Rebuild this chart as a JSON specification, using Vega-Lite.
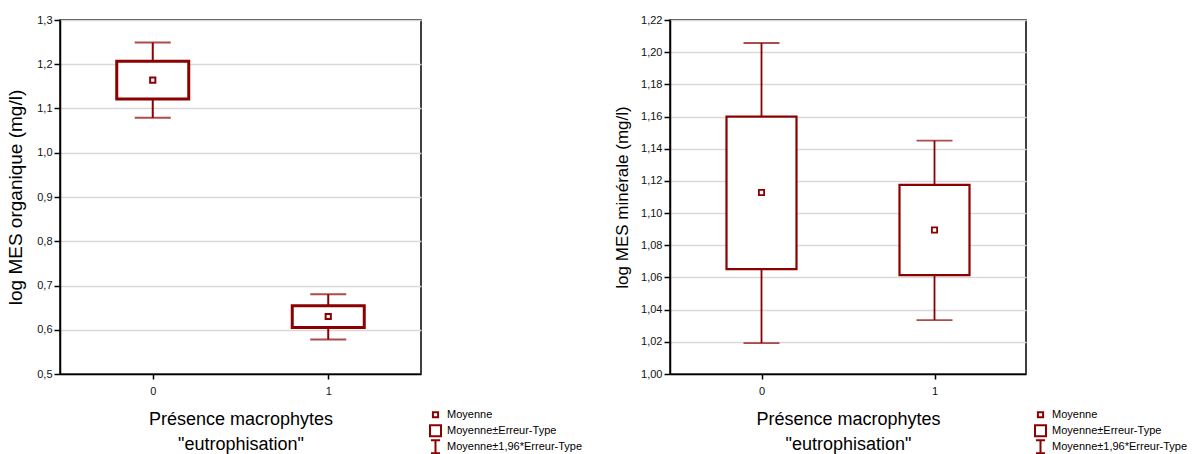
{
  "$schema": "https://vega.github.io/schema/vega-lite/v6.json",
  "background": "white",
  "padding": {"left": 5, "top": 13, "right": 0, "bottom": 0},
  "datasets": {
    "org": [
      {"cat": 0, "mean": 1.164, "se_lo": 1.1215, "se_hi": 1.207, "ci_lo": 1.079, "ci_hi": 1.249, "leg": "Moyenne"},
      {"cat": 1, "mean": 0.630, "se_lo": 0.605, "se_hi": 0.654, "ci_lo": 0.578, "ci_hi": 0.680, "leg": "Moyenne"}
    ],
    "min": [
      {"cat": 0, "mean": 1.1128, "se_lo": 1.0652, "se_hi": 1.1600, "ci_lo": 1.0192, "ci_hi": 1.2057, "leg": "Moyenne"},
      {"cat": 1, "mean": 1.0895, "se_lo": 1.0615, "se_hi": 1.1175, "ci_lo": 1.0335, "ci_hi": 1.1450, "leg": "Moyenne"}
    ]
  },
  "config": {
    "font": "Liberation Sans",
    "view": {"stroke": "black", "strokeWidth": 1.5},
    "axis": {
      "labelFont": "Liberation Sans", "labelFontSize": 11, "labelColor": "#111", "labelOverlap": false,
      "titleFont": "Liberation Sans", "titleFontWeight": "normal", "titleColor": "#000",
      "domainColor": "black", "domainWidth": 1.5, "tickColor": "black", "tickWidth": 1.5,
      "gridColor": "#d9d9d9", "gridWidth": 1.5
    },
    "legend": {
      "labelFont": "Liberation Sans", "labelFontSize": 11, "labelColor": "#000"
    }
  },
  "resolve": {"scale": {"shape": "independent"}, "legend": {"shape": "independent"}},
  "bounds": "flush",
  "spacing": 249,
  "hconcat": [
    {
      "width": 361, "height": 354,
      "data": {"name": "org"},
      "encoding": {
        "x": {"field": "cat", "type": "quantitative", "scale": {"domain": [-0.5, 1.5]},
          "axis": {"values": [0, 1], "format": "d", "grid": false, "tickSize": 5, "labelPadding": 6, "titleFontSize": 18, "titlePadding": 14, "titleLineHeight": 25,
            "title": ["Présence macrophytes", "\"eutrophisation\""]}},
        "y": {"field": "ci_lo", "type": "quantitative", "scale": {"domain": [0.5, 1.3], "nice": false, "zero": false},
          "axis": {"tickCount": 8, "format": ".1f", "labelExpr": "replace(datum.label, '.', ',')",
            "tickSize": 6, "labelPadding": 2, "titleFontSize": 19, "titlePadding": 11, "title": "log MES organique (mg/l)"}}
      },
      "layer": [
        {"mark": {"type": "rule", "color": "#8b0000", "strokeWidth": 2},
          "encoding": {"y2": {"field": "ci_hi"}}},
        {"mark": {"type": "bar", "width": 72, "fill": "white", "stroke": "#8b0000", "strokeWidth": 3},
          "encoding": {"y": {"field": "se_lo", "type": "quantitative"}, "y2": {"field": "se_hi"}}},
        {"mark": {"type": "tick", "orient": "horizontal", "size": 36, "thickness": 2, "color": "#8b0000"},
          "encoding": {"y": {"field": "ci_lo", "type": "quantitative"}}},
        {"mark": {"type": "tick", "orient": "horizontal", "size": 36, "thickness": 2, "color": "#8b0000"},
          "encoding": {"y": {"field": "ci_hi", "type": "quantitative"}}},
        {"mark": {"type": "point", "filled": false, "color": "#8b0000", "strokeWidth": 2, "size": 169, "opacity": 1},
          "encoding": {
            "y": {"field": "mean", "type": "quantitative"},
            "shape": {"field": "leg", "type": "nominal",
              "scale": {"domain": ["Moyenne", "Moyenne±Erreur-Type", "Moyenne±1,96*Erreur-Type"],
                "range": ["M-0.4,-0.4H0.4V0.4H-0.4Z", "M-0.85,-0.85H0.85V0.85H-0.85Z", "M-0.7,-1H0.7M0,-1V1M-0.7,1H0.7"]},
              "legend": {"title": null, "orient": "none", "legendX": 368, "legendY": 387, "padding": 0, "rowPadding": 0, "clipHeight": 15.5,
                "symbolSize": 169, "symbolStrokeColor": "#8b0000", "symbolStrokeWidth": 2, "symbolFillColor": "transparent", "labelOffset": 4}}
          }}
      ]
    },
    {
      "width": 356, "height": 354,
      "data": {"name": "min"},
      "encoding": {
        "x": {"field": "cat", "type": "quantitative", "scale": {"domain": [-0.5, 1.5]},
          "axis": {"values": [0, 1], "format": "d", "grid": false, "tickSize": 5, "labelPadding": 6, "titleFontSize": 18, "titlePadding": 14, "titleLineHeight": 25,
            "title": ["Présence macrophytes", "\"eutrophisation\""]}},
        "y": {"field": "ci_lo", "type": "quantitative", "scale": {"domain": [1.0, 1.22], "nice": false, "zero": false},
          "axis": {"tickCount": 11, "format": ".2f", "labelExpr": "replace(datum.label, '.', ',')",
            "tickSize": 6, "labelPadding": 2, "titleFontSize": 17, "titlePadding": 9, "title": "log MES minérale (mg/l)"}}
      },
      "layer": [
        {"mark": {"type": "rule", "color": "#8b0000", "strokeWidth": 1.8},
          "encoding": {"y2": {"field": "ci_hi"}}},
        {"mark": {"type": "bar", "width": 70, "fill": "white", "stroke": "#8b0000", "strokeWidth": 2.2},
          "encoding": {"y": {"field": "se_lo", "type": "quantitative"}, "y2": {"field": "se_hi"}}},
        {"mark": {"type": "tick", "orient": "horizontal", "size": 36, "thickness": 1.8, "color": "#8b0000"},
          "encoding": {"y": {"field": "ci_lo", "type": "quantitative"}}},
        {"mark": {"type": "tick", "orient": "horizontal", "size": 36, "thickness": 1.8, "color": "#8b0000"},
          "encoding": {"y": {"field": "ci_hi", "type": "quantitative"}}},
        {"mark": {"type": "point", "filled": false, "color": "#8b0000", "strokeWidth": 1.8, "size": 169, "opacity": 1},
          "encoding": {
            "y": {"field": "mean", "type": "quantitative"},
            "shape": {"field": "leg", "type": "nominal",
              "scale": {"domain": ["Moyenne", "Moyenne±Erreur-Type", "Moyenne±1,96*Erreur-Type"],
                "range": ["M-0.4,-0.4H0.4V0.4H-0.4Z", "M-0.85,-0.85H0.85V0.85H-0.85Z", "M-0.7,-1H0.7M0,-1V1M-0.7,1H0.7"]},
              "legend": {"title": null, "orient": "none", "legendX": 363, "legendY": 387, "padding": 0, "rowPadding": 0, "clipHeight": 15.5,
                "symbolSize": 169, "symbolStrokeColor": "#8b0000", "symbolStrokeWidth": 2, "symbolFillColor": "transparent", "labelOffset": 4}}
          }}
      ]
    }
  ]
}
